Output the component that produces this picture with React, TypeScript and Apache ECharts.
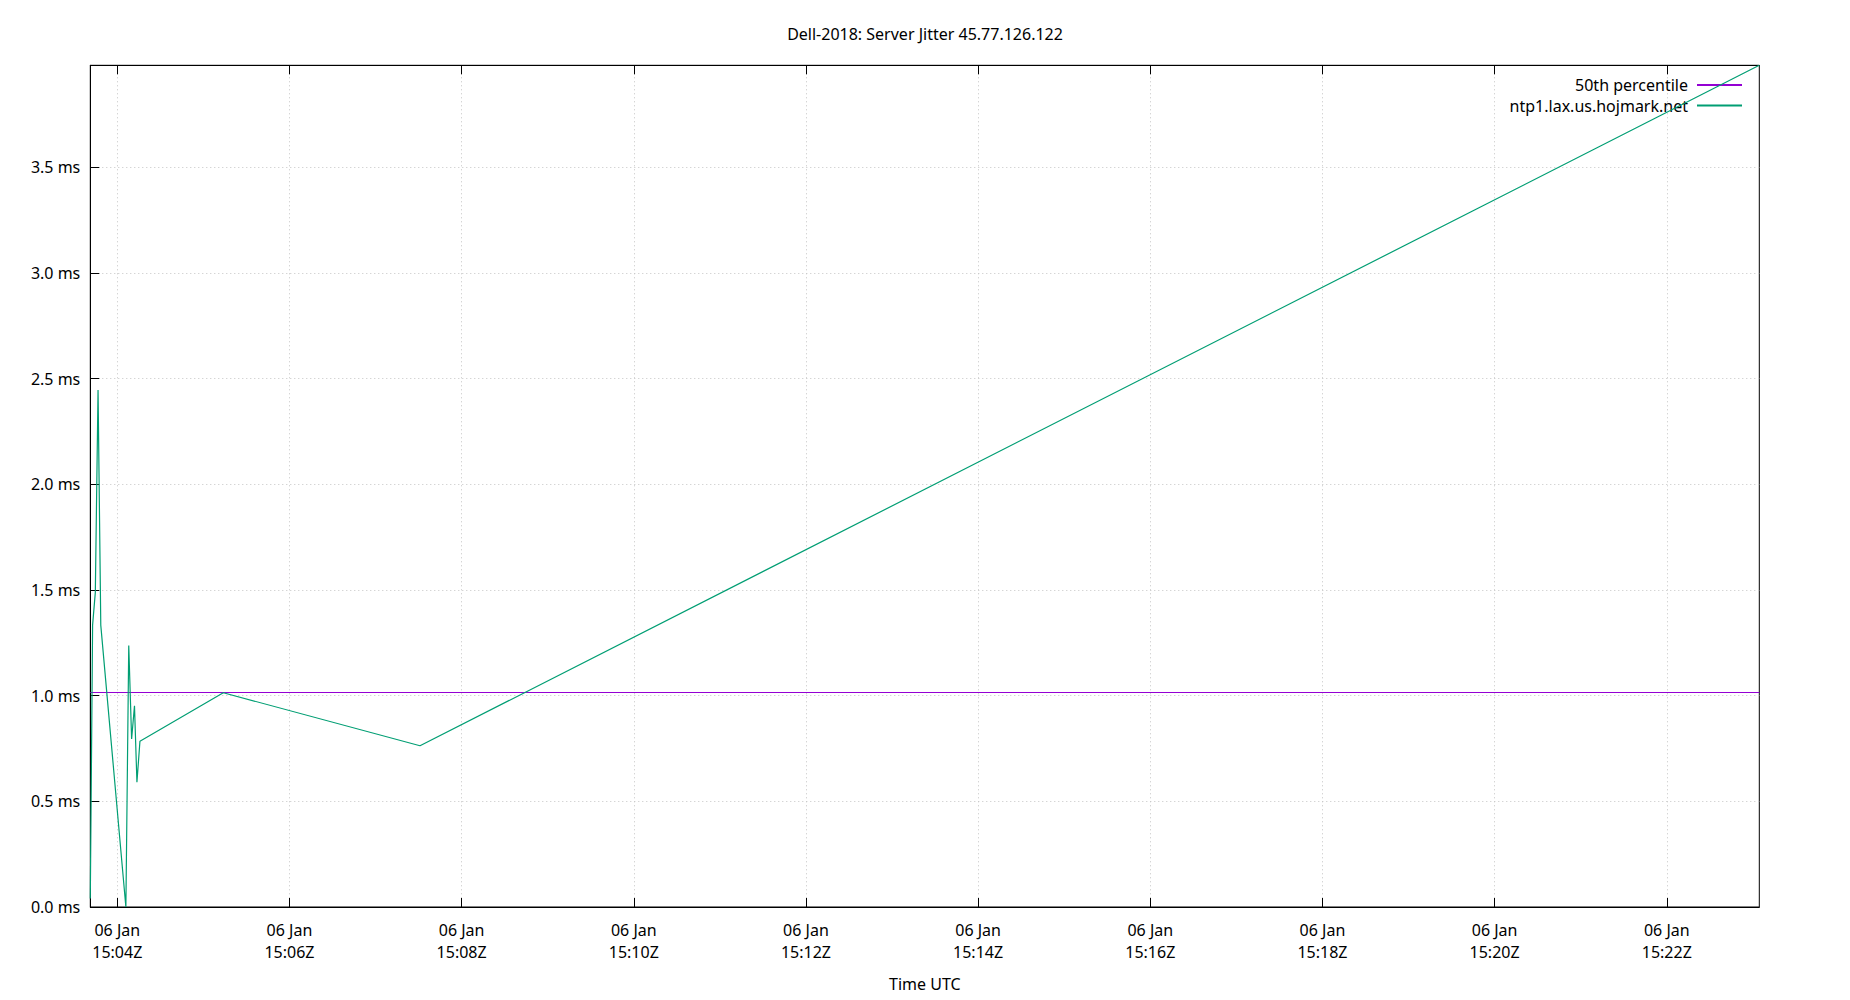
import React, { useEffect, useRef } from "react";
import * as echarts from "echarts";

const chartTitle = "Dell-2018: Server Jitter 45.77.126.122";
const seriesName = "ntp1.lax.us.hojmark.net";
const percentileName = "50th percentile";

const jitterTimes = [
  "2023-01-06T15:03:41.200Z",
  "2023-01-06T15:03:42.800Z",
  "2023-01-06T15:03:44.700Z",
  "2023-01-06T15:03:46.600Z",
  "2023-01-06T15:03:48.500Z",
  "2023-01-06T15:04:06.000Z",
  "2023-01-06T15:04:08.000Z",
  "2023-01-06T15:04:10.000Z",
  "2023-01-06T15:04:12.000Z",
  "2023-01-06T15:04:13.700Z",
  "2023-01-06T15:04:15.800Z",
  "2023-01-06T15:05:13.900Z",
  "2023-01-06T15:07:31.000Z",
  "2023-01-06T15:23:04.500Z",
];
const jitterValues = [0.04, 1.334, 1.489, 2.446, 1.334, 0.0, 1.237, 0.795, 0.952, 0.59, 0.784, 1.014, 0.763, 3.983];

const percentile50 = 1.015;

const xTickTimes = [
  "2023-01-06T15:04:00Z",
  "2023-01-06T15:06:00Z",
  "2023-01-06T15:08:00Z",
  "2023-01-06T15:10:00Z",
  "2023-01-06T15:12:00Z",
  "2023-01-06T15:14:00Z",
  "2023-01-06T15:16:00Z",
  "2023-01-06T15:18:00Z",
  "2023-01-06T15:20:00Z",
  "2023-01-06T15:22:00Z",
];
const yTickValues = [0, 0.5, 1.0, 1.5, 2.0, 2.5, 3.0, 3.5];

const MONTHS = ["Jan", "Feb", "Mar", "Apr", "May", "Jun", "Jul", "Aug", "Sep", "Oct", "Nov", "Dec"];
const pad = (n: number) => (n < 10 ? "0" + n : "" + n);

export default function App() {
  const ref = useRef<HTMLDivElement>(null);
  useEffect(() => {
    if (!ref.current) return;
    const chart = echarts.init(ref.current, null, { renderer: "svg" });
    const times = jitterTimes.map((t) => Date.parse(t));
    const tMin = Math.min(...times);
    const tMax = Math.max(...times);
    const yMax = Math.max(...jitterValues);
    const xTicks = xTickTimes.map((t) => Date.parse(t));
    const font = "Noto Sans";
    const gridLine = { show: true, lineStyle: { color: "#c4c4c4", type: [1, 3] as any, width: 1 } };

    chart.setOption({
      animation: false,
      backgroundColor: "#ffffff",
      textStyle: { fontFamily: font },
      title: {
        text: chartTitle,
        left: "center",
        top: 20.5,
        textStyle: { fontFamily: font, fontSize: 16, fontWeight: "normal", color: "#000" },
      },
      legend: {
        orient: "vertical",
        align: "right",
        right: 102,
        top: 72,
        itemWidth: 45,
        itemHeight: 16,
        itemGap: 4.6,
        itemStyle: { opacity: 0 },
        data: [percentileName, seriesName],
        textStyle: { fontFamily: font, fontSize: 16, color: "#000", padding: [0, 4, 0, 0] },
      },
      grid: {
        left: 90.3,
        right: 90.7,
        top: 65.3,
        bottom: 93,
        show: true,
        borderColor: "#000",
        borderWidth: 1,
        backgroundColor: "transparent",
      },
      xAxis: [
        {
          type: "value",
          min: tMin,
          max: tMax,
          position: "bottom",
          name: "Time UTC",
          nameLocation: "middle",
          nameGap: 69,
          nameTextStyle: { fontFamily: font, fontSize: 16, color: "#000" },
          axisLine: { show: true, onZero: false, lineStyle: { color: "#000", width: 1 } },
          axisTick: { show: true, inside: true, length: 9, customValues: xTicks, lineStyle: { color: "#000" } },
          axisLabel: {
            customValues: xTicks,
            fontFamily: font,
            fontSize: 16,
            color: "#000",
            lineHeight: 22,
            margin: 12,
            hideOverlap: false,
            formatter: (v: number) => {
              const d = new Date(v);
              return `${pad(d.getUTCDate())} ${MONTHS[d.getUTCMonth()]}\n${pad(d.getUTCHours())}:${pad(d.getUTCMinutes())}Z`;
            },
          },
          splitLine: gridLine,
        },
        {
          type: "value",
          min: tMin,
          max: tMax,
          position: "top",
          axisLine: { show: true, onZero: false, lineStyle: { color: "#000", width: 1 } },
          axisTick: { show: true, inside: true, length: 9, customValues: xTicks, lineStyle: { color: "#000" } },
          axisLabel: { show: false },
          splitLine: { show: false },
        },
      ],
      yAxis: {
        type: "value",
        min: 0,
        max: yMax,
        axisLine: { show: true, lineStyle: { color: "#000", width: 1 } },
        axisTick: { show: true, inside: true, length: 9, customValues: yTickValues, lineStyle: { color: "#000" } },
        axisLabel: {
          customValues: yTickValues,
          fontFamily: font,
          fontSize: 16,
          color: "#000",
          margin: 10,
          formatter: (v: number) => `${v.toFixed(1)} ms`,
        },
        splitLine: gridLine,
      },
      series: [
        {
          name: percentileName,
          type: "line",
          xAxisIndex: 0,
          symbol: "none",
          showSymbol: false,
          lineStyle: { color: "#9400d3", width: 1.2 },
          itemStyle: { color: "#9400d3" },
          data: [
            [tMin, percentile50],
            [tMax, percentile50],
          ],
          z: 3,
        },
        {
          name: seriesName,
          type: "line",
          xAxisIndex: 0,
          symbol: "none",
          showSymbol: false,
          lineStyle: { color: "#009e73", width: 1.2 },
          itemStyle: { color: "#009e73" },
          data: times.map((t, i) => [t, jitterValues[i]]),
          z: 4,
        },
      ],
    });
    return () => chart.dispose();
  }, []);
  return (
    <div
      ref={ref}
      style={{ position: "fixed", left: 0, top: 0, width: 1850, height: 1000, background: "#fff" }}
    />
  );
}
